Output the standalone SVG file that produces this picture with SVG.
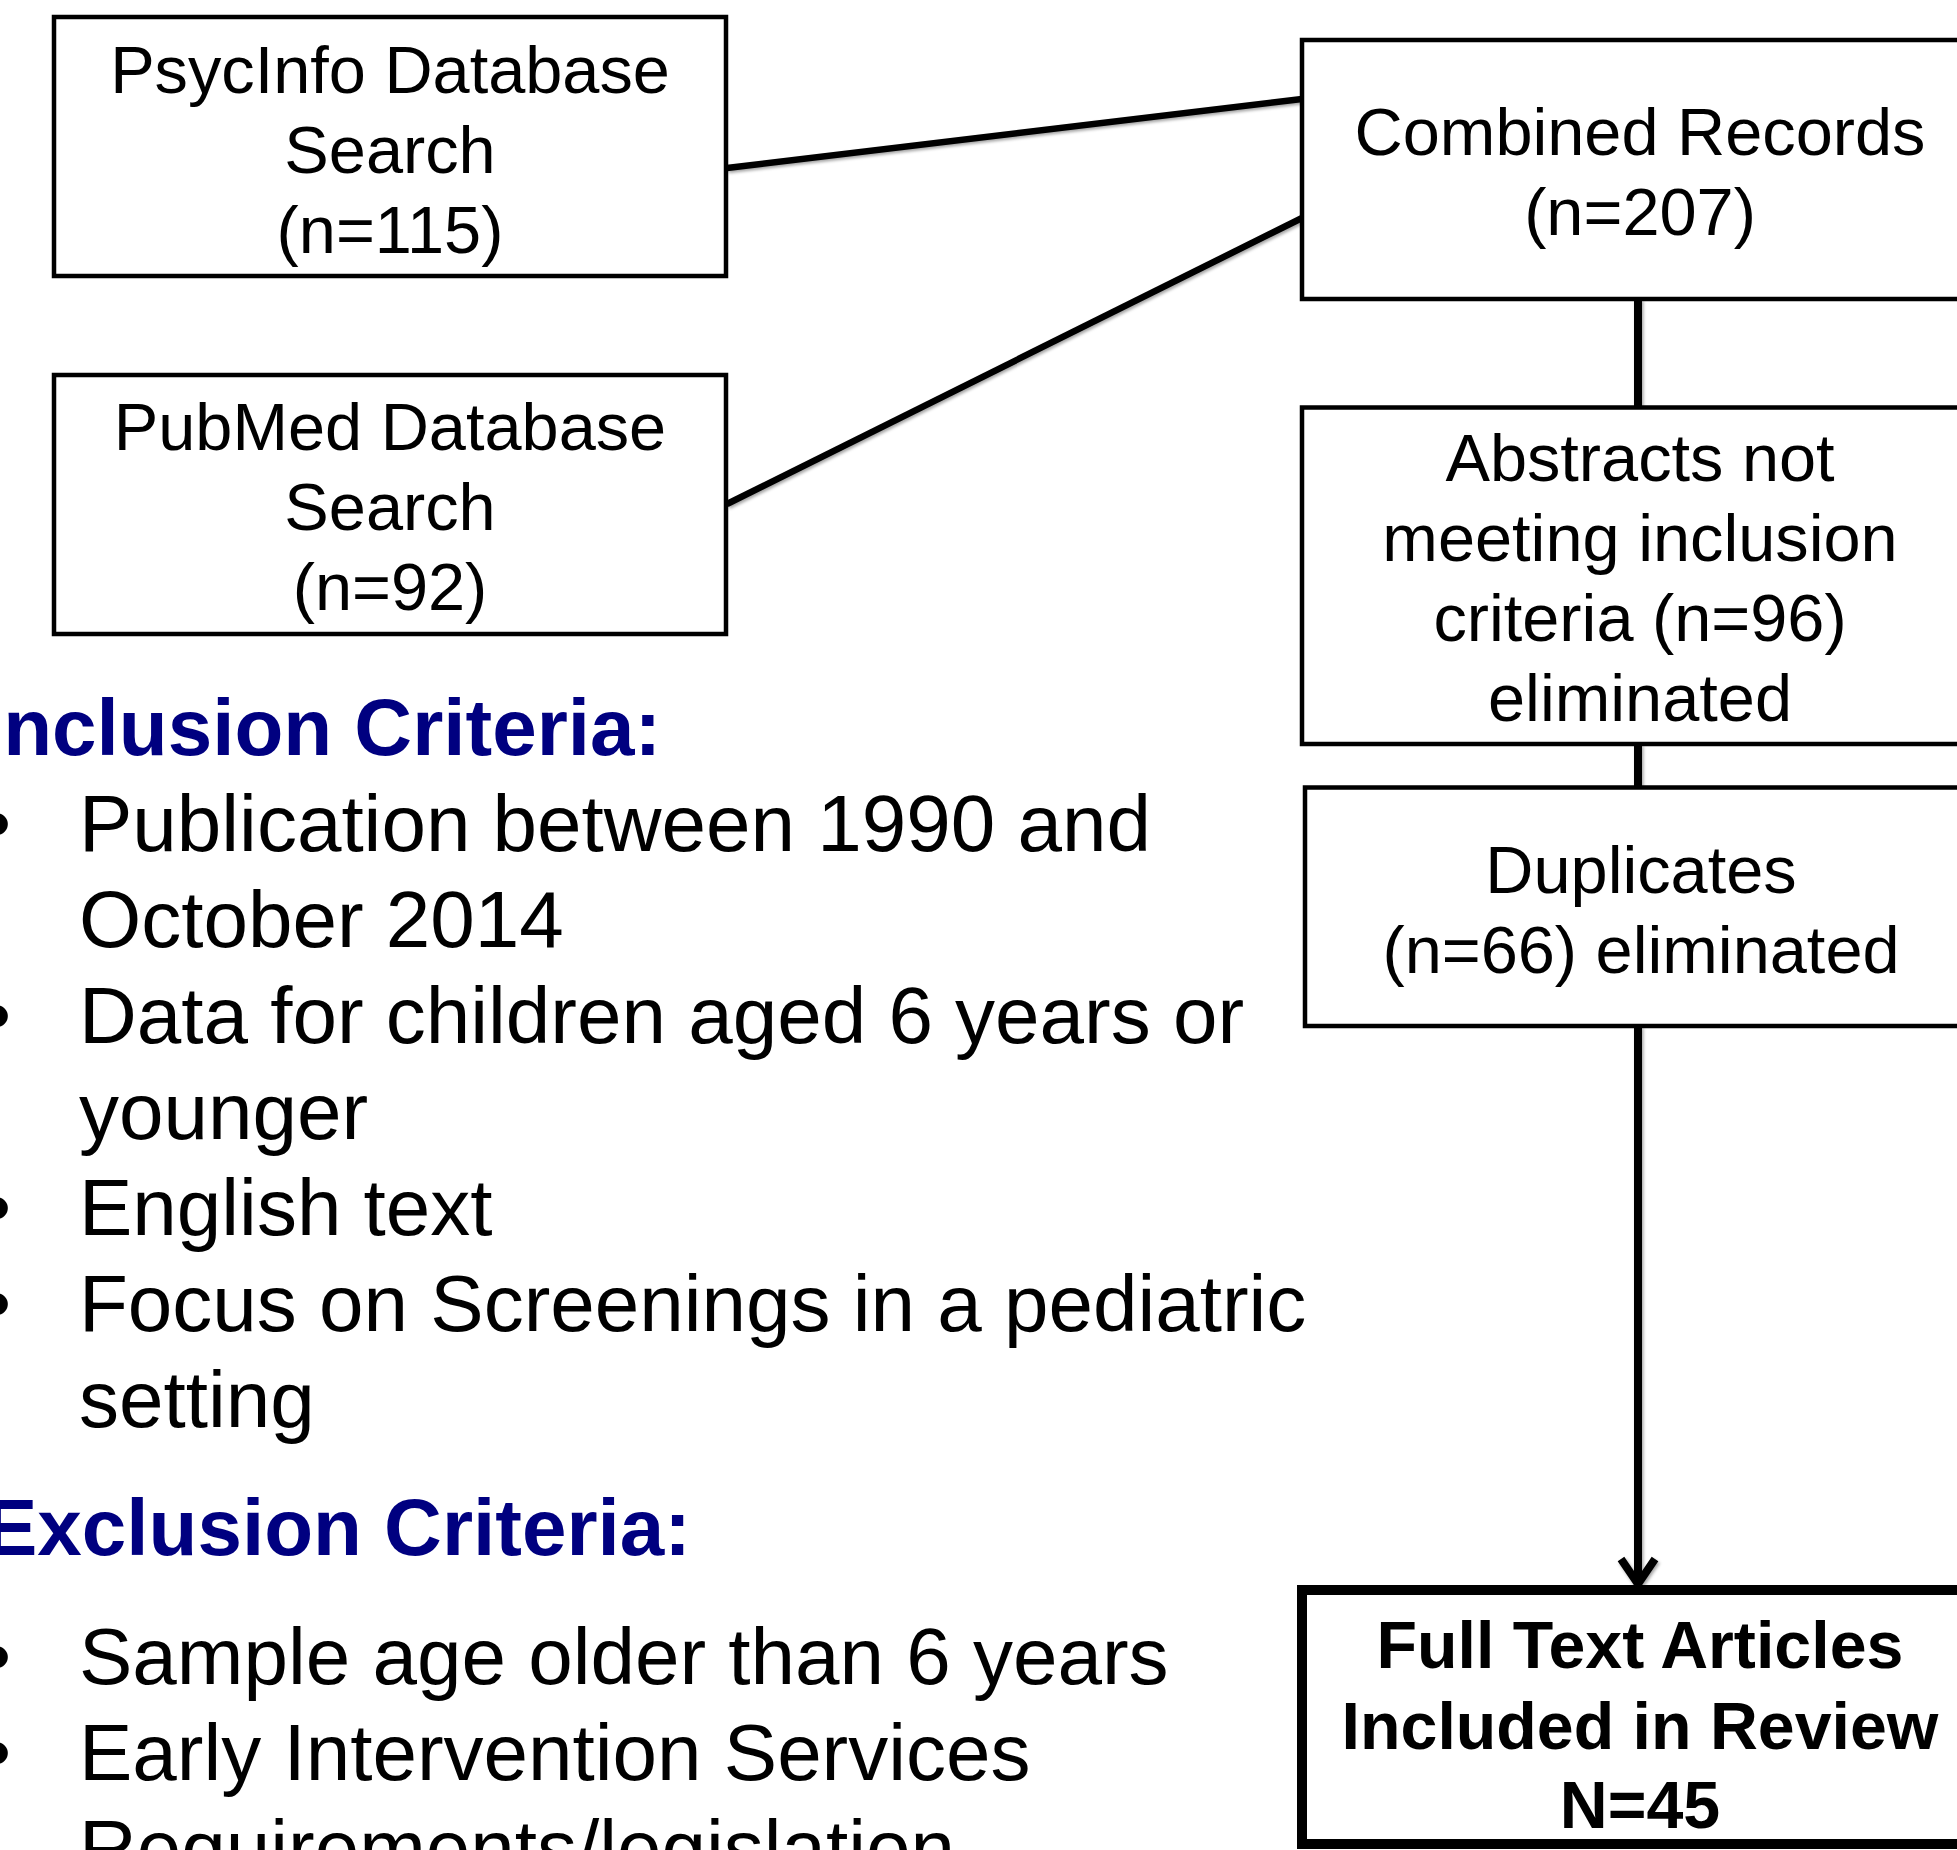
<svg xmlns="http://www.w3.org/2000/svg" width="1957" height="1850" viewBox="0 0 1957 1850">
  <defs>
    <filter id="shadow" x="-20%" y="-20%" width="140%" height="140%">
      <feDropShadow dx="1.5" dy="2" stdDeviation="1.5" flood-color="#000" flood-opacity="0.35"/>
    </filter>
    <style>
      .box { fill: #ffffff; stroke: #000000; stroke-width: 4.5; }
      .boxb { fill: #ffffff; stroke: #000000; stroke-width: 10; }
      .lbl { font-family: "Liberation Sans", Arial, sans-serif; font-size: 66.7px; fill: #000000; text-anchor: middle; }
      .lblb { font-family: "Liberation Sans", Arial, sans-serif; font-size: 66.3px; font-weight: bold; fill: #000000; text-anchor: middle; }
      .head { font-family: "Liberation Sans", Arial, sans-serif; font-size: 80px; font-weight: bold; fill: #000080; }
      .item { font-family: "Liberation Sans", Arial, sans-serif; font-size: 80px; fill: #000000; }
      .conn { stroke: #000000; fill: none; stroke-linecap: butt; }
    </style>
  </defs>
  <rect x="0" y="0" width="1957" height="1850" fill="#ffffff"/>

  <g id="connectors" filter="url(#shadow)">
    <line class="conn" x1="727" y1="168" x2="1302" y2="99" stroke-width="6.5"/>
    <line class="conn" x1="727" y1="504" x2="1302" y2="218" stroke-width="6.5"/>
    <line class="conn" x1="1638" y1="299" x2="1638" y2="407" stroke-width="8"/>
    <line class="conn" x1="1638" y1="744" x2="1638" y2="787" stroke-width="8"/>
    <line class="conn" x1="1638" y1="1026" x2="1638" y2="1582" stroke-width="8"/>
    <polyline class="conn" points="1621,1559 1638,1584 1655,1559" stroke-width="8" stroke-linecap="round" stroke-linejoin="round"/>
  </g>

  <g id="psycinfo">
    <rect class="box" x="54" y="17" width="672" height="259"/>
    <text class="lbl" x="390" y="93">PsycInfo Database</text>
    <text class="lbl" x="390" y="173">Search</text>
    <text class="lbl" x="390" y="253">(n=115)</text>
  </g>

  <g id="pubmed">
    <rect class="box" x="54" y="375" width="672" height="259"/>
    <text class="lbl" x="390" y="450">PubMed Database</text>
    <text class="lbl" x="390" y="530">Search</text>
    <text class="lbl" x="390" y="610">(n=92)</text>
  </g>

  <g id="combined">
    <rect class="box" x="1302" y="40" width="700" height="259"/>
    <text class="lbl" x="1640" y="155">Combined Records</text>
    <text class="lbl" x="1640" y="235">(n=207)</text>
  </g>

  <g id="abstracts">
    <rect class="box" x="1302" y="407.5" width="700" height="336.5"/>
    <text class="lbl" x="1640" y="481">Abstracts not</text>
    <text class="lbl" x="1640" y="561">meeting inclusion</text>
    <text class="lbl" x="1640" y="641">criteria (n=96)</text>
    <text class="lbl" x="1640" y="721">eliminated</text>
  </g>

  <g id="duplicates">
    <rect class="box" x="1305" y="787.5" width="700" height="238.5"/>
    <text class="lbl" x="1641" y="893">Duplicates</text>
    <text class="lbl" x="1641" y="973">(n=66) eliminated</text>
  </g>

  <g id="fulltext">
    <rect class="boxb" x="1302" y="1590" width="700" height="254"/>
    <text class="lblb" x="1640" y="1668">Full Text Articles</text>
    <text class="lblb" x="1640" y="1749">Included in Review</text>
    <text class="lblb" x="1640" y="1828">N=45</text>
  </g>

  <g id="inclusion">
    <text class="head" x="-19" y="755">Inclusion Criteria:</text>
    <text class="item" x="-17" y="851">•</text>
    <text class="item" x="79" y="851">Publication between 1990 and</text>
    <text class="item" x="79" y="947">October 2014</text>
    <text class="item" x="-17" y="1043">•</text>
    <text class="item" x="79" y="1043">Data for children aged 6 years or</text>
    <text class="item" x="79" y="1139">younger</text>
    <text class="item" x="-17" y="1235">•</text>
    <text class="item" x="79" y="1235">English text</text>
    <text class="item" x="-17" y="1331">•</text>
    <text class="item" x="79" y="1331">Focus on Screenings in a pediatric</text>
    <text class="item" x="79" y="1427">setting</text>
  </g>

  <g id="exclusion">
    <text class="head" x="-16" y="1555">Exclusion Criteria:</text>
    <text class="item" x="-17" y="1684">•</text>
    <text class="item" x="79" y="1684">Sample age older than 6 years</text>
    <text class="item" x="-17" y="1780">•</text>
    <text class="item" x="79" y="1780">Early Intervention Services</text>
    <text class="item" x="79" y="1876">Requirements/legislation</text>
  </g>
</svg>
